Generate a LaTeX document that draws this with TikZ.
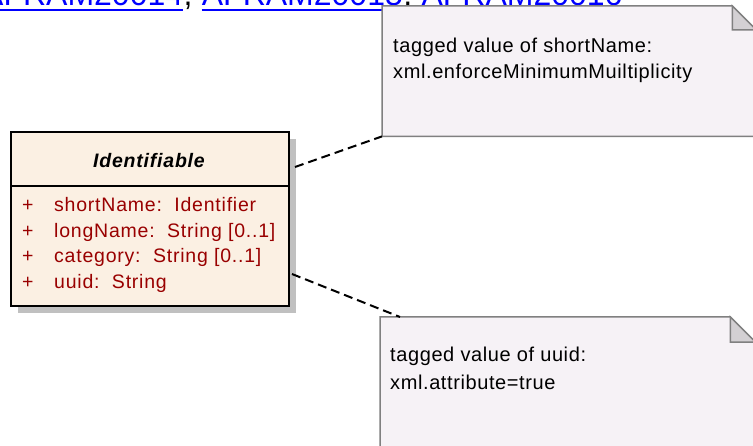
\documentclass[tikz,border=0pt]{standalone}
\usepackage{fontspec}
\setmainfont{Liberation Sans}
\newfontfamily\clsfont[LetterSpace=4]{Liberation Sans}
\newfontfamily\notefont[LetterSpace=3]{Liberation Sans}
\usetikzlibrary{shadows}

\definecolor{clsfill}{HTML}{FBF0E3}
\definecolor{attred}{HTML}{990000}
\definecolor{notefill}{HTML}{F6F2F6}
\definecolor{notedge}{HTML}{808080}
\definecolor{foldfill}{HTML}{D3D0D3}
\definecolor{linkblue}{HTML}{0000FF}
\definecolor{shade}{HTML}{C0C0C0}

\tikzset{
  cls/.style={draw=black, line width=2bp, fill=clsfill, inner sep=0pt,
    minimum width=278bp, minimum height=174bp, anchor=north west,
    drop shadow={shadow xshift=7bp, shadow yshift=-7bp, fill=shade, opacity=1}},
  clsname/.style={anchor=base, inner sep=0pt,
    font=\clsfont\fontsize{19.5bp}{23bp}\selectfont\bfseries\itshape},
  attr/.style={anchor=base west, inner sep=0pt, text=attred,
    font=\clsfont\fontsize{19.5bp}{23bp}\selectfont},
  notearea/.style={inner sep=0pt, anchor=north west},
  noteline/.style={draw=notedge, line width=1.5bp, fill=notefill},
  foldline/.style={draw=notedge, line width=1.5bp, fill=foldfill},
  notetext/.style={anchor=base west, inner sep=0pt,
    font=\notefont\fontsize{20bp}{24bp}\selectfont},
  tagline/.style={draw=black, line width=2bp, dash pattern=on 9bp off 5bp},
  refname/.style={inner sep=0pt, text=linkblue,
    font=\fontsize{32bp}{37bp}\selectfont},
  refsep/.style={inner sep=0pt, font=\fontsize{32bp}{37bp}\selectfont},
  refbar/.style={draw=linkblue, line width=2.5bp}
}

\begin{document}
\begin{tikzpicture}[x=1bp, y=-1bp]
    \useasboundingbox (0,0) rectangle (753,446);
    \clip (0,0) rectangle (753,446);

    % requirement links, cut off by the page edge
    \node[refname, anchor=base west] at (-18,6) (refA) {AFRAM20014};
    \node[refsep, anchor=base west] at (refA.base east) (sepA) {,};
    \node[refname, anchor=base west] at ([xshift=9bp]sepA.base east) (refB) {AFRAM20015};
    \node[refsep, anchor=base west] at (refB.base east) (sepB) {,};
    \node[refname, anchor=base west] at ([xshift=9bp]sepB.base east) (refC) {AFRAM20016};
    \draw[refbar] ([yshift=-4bp]refA.base west) -- ([yshift=-4bp]refA.base east);
    \draw[refbar] ([yshift=-4bp]refB.base west) -- ([yshift=-4bp]refB.base east);
    \draw[refbar] ([yshift=-4bp]refC.base west) -- ([yshift=-4bp]refC.base east);

    % class
    \node[cls] at (10,131) (ident) {};
    \draw[line width=1.5bp] ([yshift=-55bp]ident.north west) -- ([yshift=-55bp]ident.north east);
    \node[clsname] at (149,168) (name) {Identifiable};
    \node[attr] at (22,212) (p1) {+};
    \node[attr] at (22,238) (p2) {+};
    \node[attr] at (22,263) (p3) {+};
    \node[attr] at (22,289) (p4) {+};
    \node[attr] at (54,212) (a1) {shortName:\ \ Identifier};
    \node[attr] at (54,238) (a2) {longName:\ \ String [0..1]};
    \node[attr] at (54,263) (a3) {category:\ \ String [0..1]};
    \node[attr] at (54,289) (a4) {uuid:\ \ String};

    % notes
    \node[notearea, minimum width=374bp, minimum height=130bp] at (382,6) (tagA) {};
    \path[noteline] (tagA.north west) -- ([xshift=-24bp]tagA.north east)
        -- ([yshift=-24bp]tagA.north east) -- (tagA.south east)
        -- (tagA.south west) -- cycle;
    \path[foldline] ([xshift=-24bp]tagA.north east) -- ([xshift=-24bp,yshift=-24bp]tagA.north east)
        -- ([yshift=-24bp]tagA.north east) -- cycle;
    \node[notetext] at (393,53) (tagA1) {tagged value of shortName:};
    \node[notetext] at (393,79) (tagA2) {xml.enforceMinimumMuiltiplicity};

    \node[notearea, minimum width=375bp, minimum height=200bp] at (380,317) (tagB) {};
    \path[noteline] (tagB.north west) -- ([xshift=-25bp]tagB.north east)
        -- ([yshift=-25bp]tagB.north east) -- (tagB.south east)
        -- (tagB.south west) -- cycle;
    \path[foldline] ([xshift=-25bp]tagB.north east) -- ([xshift=-25bp,yshift=-25bp]tagB.north east)
        -- ([yshift=-25bp]tagB.north east) -- cycle;
    \node[notetext] at (390,362) (tagB1) {tagged value of uuid:};
    \node[notetext] at (390,389) (tagB2) {xml.attribute=true};

    % note links
    \draw[tagline] ([xshift=5bp,yshift=-36bp]ident.north east) -- (tagA.south west);
    \draw[tagline] ([xshift=2bp,yshift=-143bp]ident.north east) -- ([xshift=20bp]tagB.north west);
\end{tikzpicture}
\end{document}
